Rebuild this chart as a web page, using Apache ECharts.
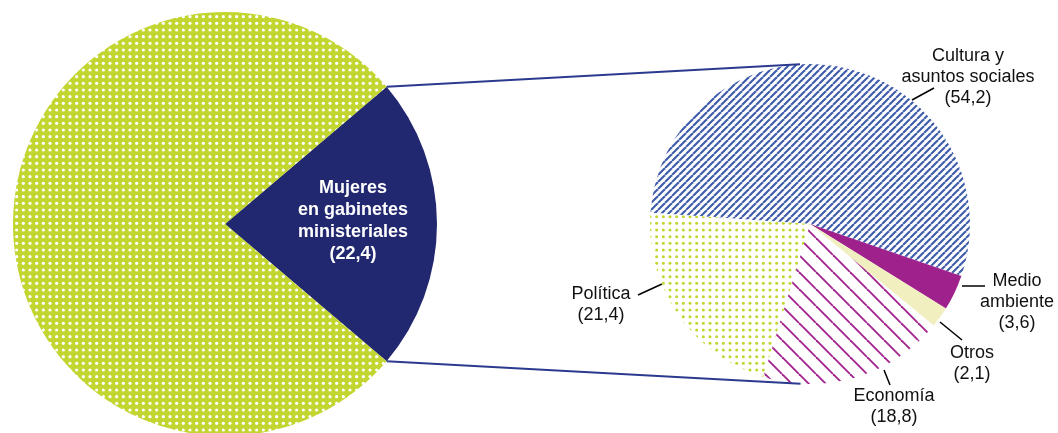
<!DOCTYPE html>
<html>
<head>
<meta charset="utf-8">
<script src="https://cdn.jsdelivr.net/npm/echarts@6/dist/echarts.min.js"></script>
<style>
  html, body { margin: 0; padding: 0; background: #fff; }
  #chart { width: 1058px; height: 433px; }
</style>
</head>
<body>
<div id="chart"></div>
<script>
// datos
const mainNames = ['Mujeres\nen gabinetes\nministeriales', 'Hombres'];
const mainValues = [22.4, 77.6];
const detailNames = ['Cultura y\nasuntos sociales', 'Medio\nambiente', 'Otros', 'Economía', 'Política'];
const detailValues = [54.2, 3.6, 2.1, 18.8, 21.4];

// geometria
const mainCenter = [225, 224], mainRadius = 212;
const detCenter = [810, 224], detRadius = 160;
const font = '"Liberation Sans", Arial, sans-serif';

// posiciones de las etiquetas del pastel derecho
const labelSpots = [
  { x: 968, y: 77, line: [[912, 100], [934, 88]] },
  { x: 1017, y: 302, line: [[962, 286], [985, 286]] },
  { x: 972, y: 364, line: [[940, 322], [962, 340]] },
  { x: 894, y: 407, line: [[884, 370], [890, 385]] },
  { x: 601, y: 305, line: [[638, 295], [662, 284]] }
];

// trama de puntos: 3x3 puntos por tesela
function dots(bg, dot, s, r) {
  const c = document.createElement('canvas');
  c.width = s; c.height = s;
  const ctx = c.getContext('2d');
  ctx.fillStyle = bg;
  ctx.fillRect(0, 0, s, s);
  ctx.fillStyle = dot;
  const step = s / 3;
  for (let i = 0; i < 3; i++) {
    for (let j = 0; j < 3; j++) {
      ctx.beginPath();
      ctx.arc(step * (i + 0.5), step * (j + 0.5), r, 0, Math.PI * 2);
      ctx.fill();
    }
  }
  return { image: c, repeat: 'repeat' };
}

// rayado diagonal
function hatch(color, s, w, back) {
  const c = document.createElement('canvas');
  c.width = s; c.height = s;
  const ctx = c.getContext('2d');
  ctx.fillStyle = '#fff';
  ctx.fillRect(0, 0, s, s);
  ctx.strokeStyle = color;
  ctx.lineWidth = w;
  for (let k = -1; k <= 1; k++) {
    ctx.beginPath();
    if (back) {
      ctx.moveTo(k * s, 0); ctx.lineTo(k * s + s, s);
    } else {
      ctx.moveTo(k * s, s); ctx.lineTo(k * s + s, 0);
    }
    ctx.stroke();
  }
  return { image: c, repeat: 'repeat' };
}

const green = '#c2d530';
const navy = '#21286f';
const detailColors = [
  hatch('#3f5cab', 7, 2.1, false),
  '#9f228c',
  '#f1efc0',
  hatch('#a2258e', 17, 1.9, true),
  dots('#ffffff', green, 20, 1.5)
];

function fmt(v) {
  return String(v).replace('.', ',');
}

const halfAngle = mainValues[0] / 100 * 180;

function onCircle(c, r, deg) {
  const a = deg * Math.PI / 180;
  return [c[0] + r * Math.cos(a), c[1] - r * Math.sin(a)];
}

const topA = onCircle(mainCenter, mainRadius, halfAngle);
const botA = onCircle(mainCenter, mainRadius, -halfAngle);
const topB = onCircle(detCenter, detRadius, 93.6);
const botB = onCircle(detCenter, detRadius, 266.6);

const chart = echarts.init(document.getElementById('chart'));

const option = {
  animation: false,
  backgroundColor: '#fff',
  graphic: [
    { type: 'line', shape: { x1: topA[0], y1: topA[1], x2: topB[0], y2: topB[1] }, style: { stroke: '#2b3a8e', lineWidth: 2 }, z: 10 },
    { type: 'line', shape: { x1: botA[0], y1: botA[1], x2: botB[0], y2: botB[1] }, style: { stroke: '#2b3a8e', lineWidth: 2 }, z: 10 }
  ],
  series: [
    {
      type: 'pie',
      center: mainCenter,
      radius: mainRadius,
      startAngle: halfAngle,
      clockwise: true,
      silent: true,
      itemStyle: { borderWidth: 0 },
      labelLayout: function () {
        return { x: 353, y: 221, align: 'center', verticalAlign: 'middle' };
      },
      data: mainNames.map(function (n, i) {
        return {
          name: n,
          value: mainValues[i],
          itemStyle: { color: i === 0 ? navy : dots(green, '#ffffff', 20, 1.6) },
          label: {
            show: i === 0,
            position: 'inside',
            color: '#fff',
            fontFamily: font,
            fontWeight: 'bold',
            fontSize: 18,
            lineHeight: 22,
            align: 'center',
            formatter: function (p) { return p.name + '\n(' + fmt(p.value) + ')'; }
          },
          labelLine: { show: false }
        };
      })
    },
    {
      type: 'pie',
      center: detCenter,
      radius: detRadius,
      startAngle: 176,
      clockwise: true,
      silent: true,
      itemStyle: { borderWidth: 0 },
      label: {
        show: true,
        position: 'outside',
        color: '#111',
        fontFamily: font,
        fontSize: 18,
        lineHeight: 21,
        align: 'center',
        overflow: 'none',
        width: 160,
        formatter: function (p) { return p.name + '\n(' + fmt(p.value) + ')'; }
      },
      labelLine: { show: true, lineStyle: { color: '#000', width: 1.5 } },
      labelLayout: function (p) {
        const s = labelSpots[p.dataIndex];
        return {
          x: s.x, y: s.y, align: 'center', verticalAlign: 'middle',
          labelLinePoints: [s.line[0], s.line[0], s.line[1]]
        };
      },
      data: detailNames.map(function (n, i) {
        return { name: n, value: detailValues[i], itemStyle: { color: detailColors[i] } };
      })
    }
  ]
};

chart.setOption(option);
</script>
</body>
</html>
